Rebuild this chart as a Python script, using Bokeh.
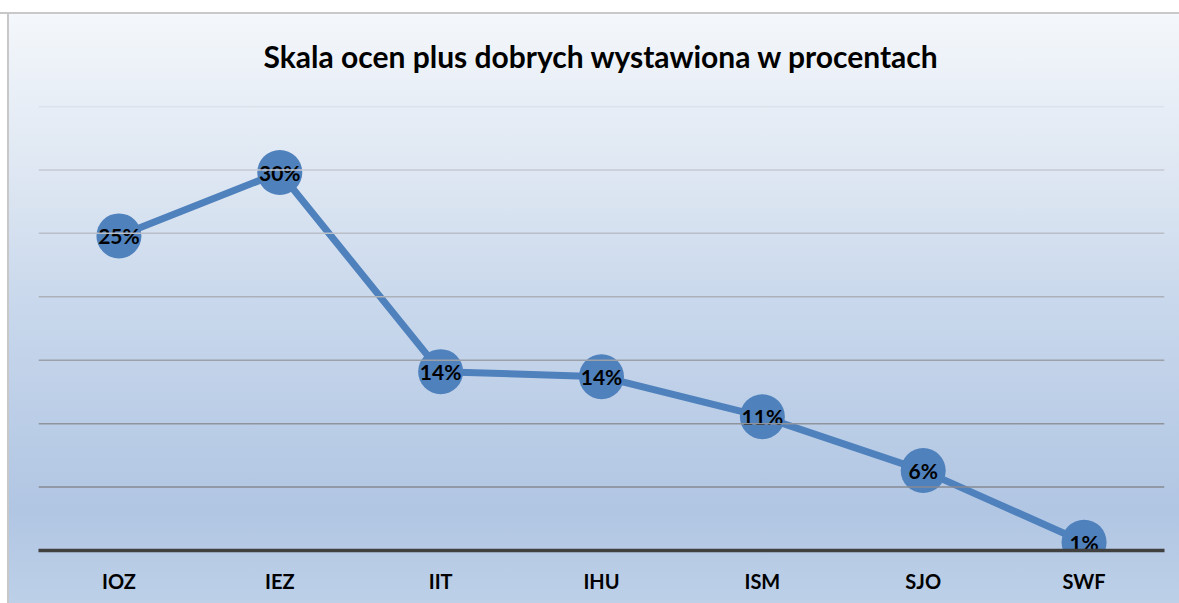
from bokeh.plotting import figure
from bokeh.models import ColumnDataSource, Range1d, Span
from bokeh.core.properties import value
from bokeh.embed import file_html
from bokeh.resources import INLINE

categories = ["IOZ", "IEZ", "IIT", "IHU", "ISM", "SJO", "SWF"]
values = [24.8, 29.8, 14.1, 13.7, 10.55, 6.3, 0.65]
labels = ["25%", "30%", "14%", "14%", "11%", "6%", "1%"]
grid_values = [5, 10, 15, 20, 25, 30, 35]
grid_colors = ["#868a93", "#8f939b", "#9ca0a8", "#acb0b8", "#babec7", "#c6cad3", "#d2d5dd"]
title_text = "Skala ocen plus dobrych wystawiona w procentach"

FONT = "Lato"
BLUE = "#4f81bd"

source = ColumnDataSource(dict(cat=categories, val=values, lab=labels))

bg = ("linear-gradient(to bottom, #ffffff 0px, #ffffff 12px, #c8c8c8 12px, #c8c8c8 14px, transparent 14px) 0 0 / 100% 14px no-repeat, "
      "linear-gradient(to right, #ffffff 0px, #ffffff 7px, #c8c8c8 7px, #c8c8c8 9px, transparent 9px) 0 0 / 9px 100% no-repeat, "
      "linear-gradient(to bottom, #ffffff 0px, #ffffff 12px, #f4f7fb 14px, #dae4f1 200px, #c9d8ec 300px, #b1c6e3 510px, #bdd0e8 603px)")

p = figure(width=1179, height=603, x_range=categories, y_range=Range1d(0, 35),
           output_backend="svg", toolbar_location=None,
           min_border_left=38, min_border_right=15, min_border_top=106, min_border_bottom=53,
           background_fill_color=None, border_fill_color=None, outline_line_color=None,
           styles={"background": bg})

p.x_range.range_padding = 0

p.title.text = title_text
p.title.align = "center"
p.title.text_font = FONT
p.title.text_font_style = "bold"
p.title.text_font_size = "30px"
p.title.text_color = "#000000"
p.title.standoff = 65

p.yaxis.visible = False
p.xgrid.grid_line_color = None
p.ygrid.grid_line_color = None

for v, c in zip(grid_values, grid_colors):
    p.add_layout(Span(location=v, dimension="width", line_color=c, line_width=1.5))

ax = p.xaxis[0]
ax.axis_line_color = "#404040"
ax.axis_line_width = 3.5
ax.major_tick_line_color = None
ax.minor_tick_line_color = None
ax.major_label_text_font = FONT
ax.major_label_text_font_style = "bold"
ax.major_label_text_font_size = "20px"
ax.major_label_text_color = "#000000"
ax.major_label_standoff = 12

p.line("cat", "val", source=source, line_color=BLUE, line_width=7)
p.scatter("cat", "val", source=source, size=45, fill_color=BLUE, line_color=None)
p.text("cat", "val", text="lab", source=source, text_align="center", text_baseline="middle",
       text_font=value(FONT), text_font_style="bold", text_font_size="21px", text_color="#000000")

open("out.html", "w").write(file_html(p, INLINE))
